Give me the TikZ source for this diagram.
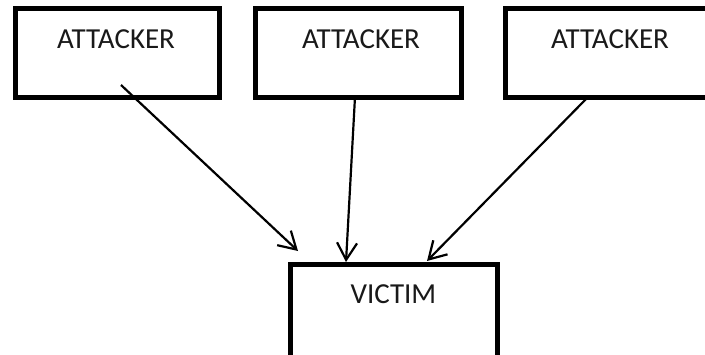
\documentclass[tikz,border=0pt]{standalone}
\usepackage{fontspec}
\setmainfont{Carlito}
\usetikzlibrary{arrows.meta,calc}
\tikzset{
  boxnode/.style={draw=black, line width=5pt, rectangle, inner sep=0pt, fill=white},
  lbl/.style={anchor=base, inner sep=0pt, font=\fontsize{29}{32}\selectfont, text=black!90},
  conn/.style={draw=black, line width=2.2pt, -{Straight Barb[length=17pt, width=20pt, line width=2.2pt]}}
}
\begin{document}
\begin{tikzpicture}[x=1pt,y=-1pt]
\useasboundingbox (0,0) rectangle (705,354);
% boxes (corners at centre of border line)
\node[boxnode, minimum width=204.5pt, minimum height=89pt] (a1) at (117.25,52.5) {};
\node[boxnode, minimum width=206pt, minimum height=89pt] (a2) at (358.5,52.5) {};
\node[boxnode, minimum width=209pt, minimum height=89pt] (a3) at (610,52.5) {};
\node[boxnode, minimum width=207.5pt, minimum height=98pt] (v) at (393.75,313.5) {};
% labels
\node[lbl] (t1) at (116,48) {ATTACKER};
\node[lbl] (t2) at (361,48) {ATTACKER};
\node[lbl] (t3) at (610,48) {ATTACKER};
\node[lbl] (tv) at (393.5,303) {VICTIM};
% connector end points
\coordinate (s1) at (121,85);
\coordinate (s2) at (355,97);
\coordinate (s3) at (588,97);
\coordinate (e1) at (298,251);
\coordinate (e2) at (346,262);
\coordinate (e3) at (427,261);
\draw[conn] (s1) -- (e1);
\draw[conn] (s2) -- (e2);
\draw[conn] (s3) -- (e3);
\end{tikzpicture}
\end{document}
